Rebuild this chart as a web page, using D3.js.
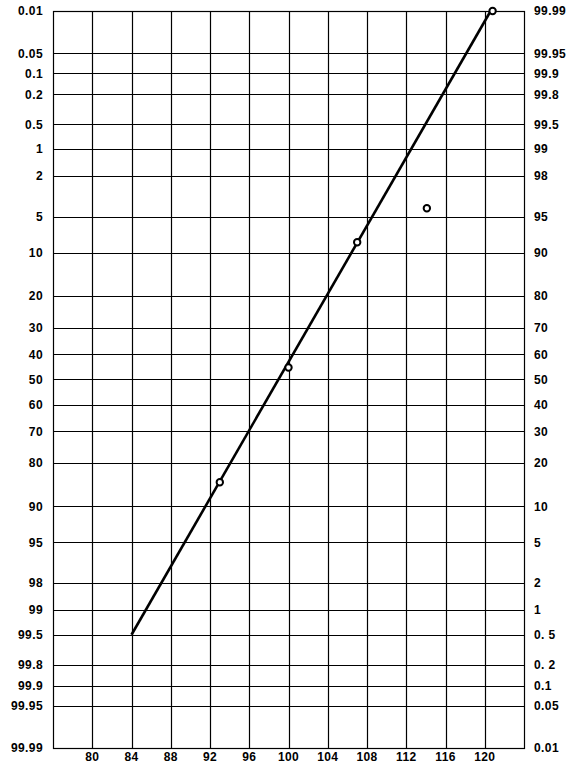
<!DOCTYPE html>
<html>
<head>
<meta charset="utf-8" />
<title>Probability plot</title>
<script src="https://cdn.jsdelivr.net/npm/d3@7"></script>
<style>
  body { margin: 0; background: #fff; }
  .lbl text { font-family: "Liberation Sans", Arial, sans-serif; font-weight: bold; font-size: 12px; letter-spacing: 0.4px; fill: #000; }
</style>
</head>
<body>
<div id="chart"></div>
<script>
  // x ticks
  var xTicks = [80, 84, 88, 92, 96, 100, 104, 108, 112, 116, 120];
  // probability gridlines (left axis, percent)
  var pTicks = [0.01, 0.05, 0.1, 0.2, 0.5, 1, 2, 5, 10, 20, 30, 40, 50, 60, 70, 80, 90, 95, 98, 99, 99.5, 99.8, 99.9, 99.95, 99.99];
  var leftLabels = ["0.01", "0.05", "0.1", "0.2", "0.5", "1", "2", "5", "10", "20", "30", "40", "50", "60", "70", "80", "90", "95", "98", "99", "99.5", "99.8", "99.9", "99.95", "99.99"];
  var rightLabels = ["99.99", "99.95", "99.9", "99.8", "99.5", "99", "98", "95", "90", "80", "70", "60", "50", "40", "30", "20", "10", "5", "2", "1", "0. 5", "0. 2", "0.1", "0.05", "0.01"];

  // observed points
  var ptX = [93, 100, 107, 114.1, 120.8];
  var ptP = [85, 45.2, 8.3, 4.2, 0.01];

  // fitted line end points
  var fitX = [84, 120.6];
  var fitP = [99.5, 0.01];

  // inverse normal cdf (Acklam)
  function probit(p) {
    var a = [-39.69683028665376, 220.9460984245205, -275.9285104469687, 138.3577518672690, -30.66479806614716, 2.506628277459239];
    var b = [-54.47609879822406, 161.5858368580409, -155.6989798598866, 66.80131188771972, -13.28068155288572];
    var c = [-0.007784894002430293, -0.3223964580411365, -2.400758277161838, -2.549732539343734, 4.374664141464968, 2.938163982698783];
    var d = [0.007784695709041462, 0.3224671290700398, 2.445134137142996, 3.754408661907416];
    var pl = 0.02425, q, r;
    if (p < pl) {
      q = Math.sqrt(-2 * Math.log(p));
      return (((((c[0]*q+c[1])*q+c[2])*q+c[3])*q+c[4])*q+c[5]) / ((((d[0]*q+d[1])*q+d[2])*q+d[3])*q+1);
    } else if (p <= 1 - pl) {
      q = p - 0.5; r = q * q;
      return (((((a[0]*r+a[1])*r+a[2])*r+a[3])*r+a[4])*r+a[5])*q / (((((b[0]*r+b[1])*r+b[2])*r+b[3])*r+b[4])*r+1);
    } else {
      q = Math.sqrt(-2 * Math.log(1 - p));
      return -(((((c[0]*q+c[1])*q+c[2])*q+c[3])*q+c[4])*q+c[5]) / ((((d[0]*q+d[1])*q+d[2])*q+d[3])*q+1);
    }
  }

  var W = 586, H = 772;
  var mLeft = 53, mRight = 524, mTop = 11, mBottom = 748;

  var svg = d3.select("#chart").append("svg").attr("width", W).attr("height", H);

  var x = d3.scaleLinear().domain([76, 124]).range([mLeft, mRight]);
  var z = d3.scaleLinear().domain([probit(0.0001), probit(0.9999)]).range([mTop, mBottom]);
  var y = function(pct) { return z(probit(pct / 100)); };

  // grid
  svg.append("g").selectAll("line").data(xTicks).enter().append("line")
    .attr("x1", function(d) { return Math.round(x(d)) + 0.5; })
    .attr("x2", function(d) { return Math.round(x(d)) + 0.5; })
    .attr("y1", mTop).attr("y2", mBottom)
    .attr("stroke", "#000").attr("stroke-width", 1.2);

  svg.append("g").selectAll("line").data(pTicks).enter().append("line")
    .attr("x1", mLeft).attr("x2", mRight)
    .attr("y1", function(d) { return Math.round(y(d)) + 0.5; })
    .attr("y2", function(d) { return Math.round(y(d)) + 0.5; })
    .attr("stroke", "#000").attr("stroke-width", 1.2);

  svg.append("rect")
    .attr("x", mLeft + 0.5).attr("y", mTop + 0.5)
    .attr("width", mRight - mLeft).attr("height", mBottom - mTop)
    .attr("fill", "none").attr("stroke", "#000").attr("stroke-width", 1.2);

  // labels
  var lg = svg.append("g").attr("class", "lbl");
  lg.selectAll("text.l").data(pTicks).enter().append("text")
    .attr("class", "l")
    .attr("x", mLeft - 10)
    .attr("y", function(d) { return y(d); })
    .attr("dy", "0.36em")
    .attr("text-anchor", "end")
    .text(function(d, i) { return leftLabels[i]; });

  lg.selectAll("text.r").data(pTicks).enter().append("text")
    .attr("class", "r")
    .attr("x", mRight + 10)
    .attr("y", function(d) { return y(d); })
    .attr("dy", "0.36em")
    .attr("text-anchor", "start")
    .text(function(d, i) { return rightLabels[i]; });

  lg.selectAll("text.x").data(xTicks).enter().append("text")
    .attr("class", "x")
    .attr("x", function(d) { return x(d); })
    .attr("y", mBottom + 4)
    .attr("dy", "0.75em")
    .attr("text-anchor", "middle")
    .text(function(d) { return d; });

  // fitted line
  var fit = fitX.map(function(v, i) { return [v, fitP[i]]; });
  svg.append("path")
    .datum(fit)
    .attr("d", d3.line().x(function(d) { return x(d[0]); }).y(function(d) { return y(d[1]); }))
    .attr("fill", "none").attr("stroke", "#000").attr("stroke-width", 2.6);

  // points
  var pts = ptX.map(function(v, i) { return [v, ptP[i]]; });
  svg.append("g").selectAll("circle").data(pts).enter().append("circle")
    .attr("cx", function(d) { return x(d[0]); })
    .attr("cy", function(d) { return y(d[1]); })
    .attr("r", 3.2)
    .attr("fill", "#fff").attr("stroke", "#000").attr("stroke-width", 2);
</script>
</body>
</html>
